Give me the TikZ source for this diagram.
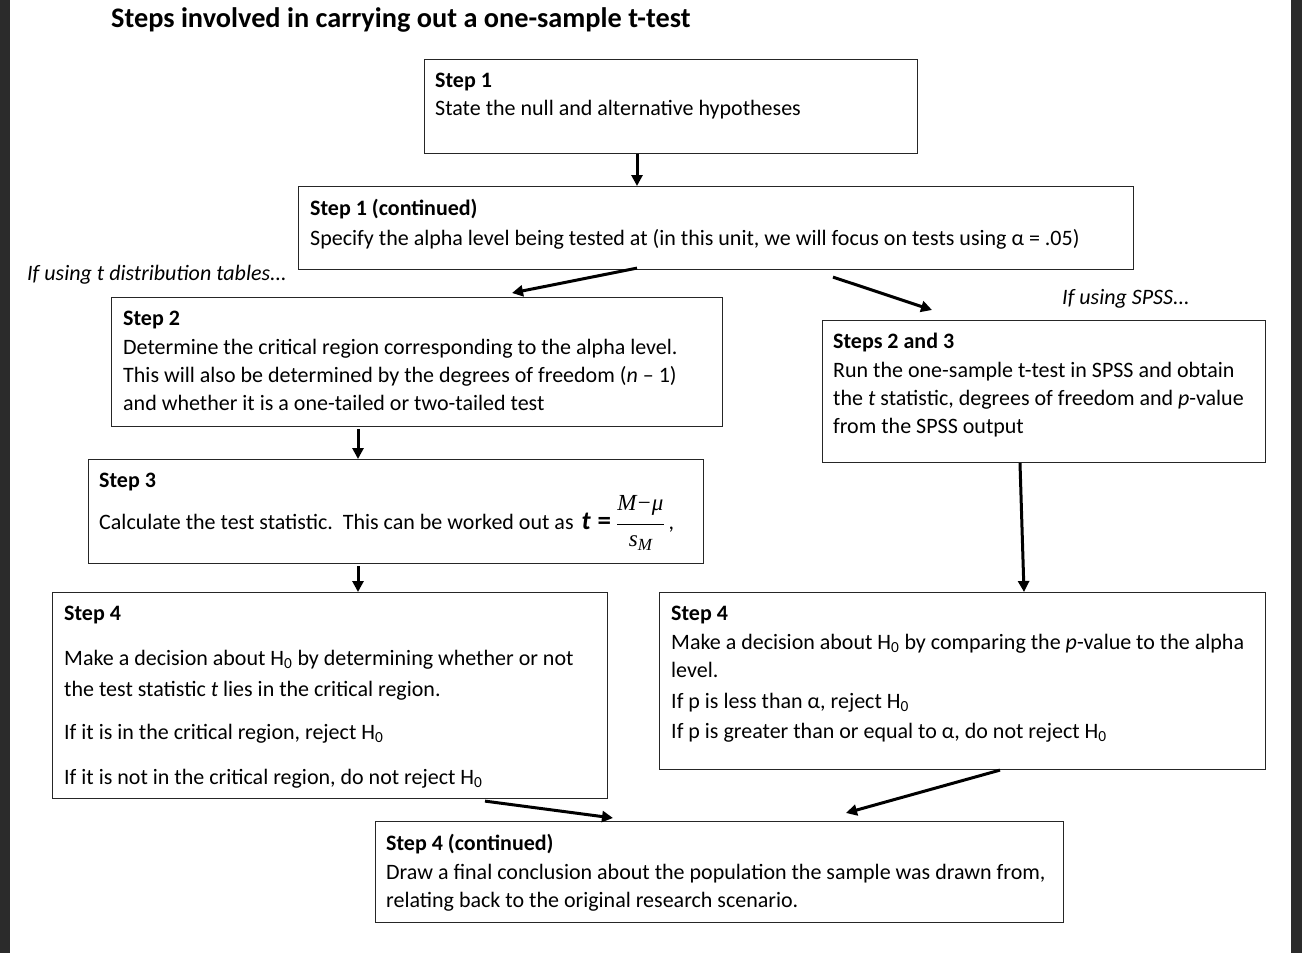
\documentclass[tikz,border=0pt]{standalone}
\usepackage{fontspec}
\setmainfont{Carlito}
\newfontfamily\serifit[ItalicFont={Liberation Serif Italic}]{Liberation Serif}
\usetikzlibrary{arrows.meta,calc}
\newcommand\Hnull{H\textsubscript{0}}
\begin{document}
\begin{tikzpicture}[x=1pt,y=-1pt,
 box/.style={draw=black!85, line width=1.1pt, inner sep=0pt, anchor=north west},
 ln/.style={anchor=base west, inner sep=0pt, font=\fontsize{22}{26}\selectfont},
 hd/.style={anchor=base west, inner sep=0pt, font=\fontsize{22}{26}\selectfont\bfseries},
 arr/.style={line width=3pt, -{Triangle[length=11pt,width=11pt]}},
 note/.style={anchor=base west, inner sep=0pt, font=\fontsize{22}{26}\selectfont\itshape}]
\useasboundingbox (0,0) rectangle (1302,953);
\fill[white] (0,0) rectangle (1302,953);
\fill[black!83] (0,0) rectangle (10,953);
\fill[black!83] (1291,0) rectangle (1302,953);

% title
\node[anchor=base west, inner sep=0pt, font=\fontsize{28.3}{32}\selectfont\bfseries] (title) at (111,27.5) {Steps involved in carrying out a one-sample t-test};

% boxes
\node[box, minimum width=493pt, minimum height=94pt] (s1) at (424,59) {};
\node[box, minimum width=835pt, minimum height=83pt] (c1) at (298,186) {};
\node[box, minimum width=611pt, minimum height=129pt] (s2) at (111,297) {};
\node[box, minimum width=443pt, minimum height=142pt] (s23) at (822,320) {};
\node[box, minimum width=615pt, minimum height=104pt] (s3) at (88,459) {};
\node[box, minimum width=555pt, minimum height=206pt] (s4l) at (52,592) {};
\node[box, minimum width=606pt, minimum height=177pt] (s4r) at (659,592) {};
\node[box, minimum width=688pt, minimum height=101pt] (s4c) at (375,821) {};

% texts
\node[hd] (s1h) at (435,87) {Step 1};
\node[ln] (s1a) at (435,115) {State the null and alternative hypotheses};

\node[hd] (c1h) at (310,215) {Step 1 (continued)};
\node[ln] (c1a) at (310,245) {Specify the alpha level being tested at (in this unit, we will focus on tests using α = .05)};

\node[hd] (s2h) at (123,325) {Step 2};
\node[ln] (s2a) at (123,354) {Determine the critical region corresponding to the alpha level.};
\node[ln] (s2b) at (123,382) {This will also be determined by the degrees of freedom (\textit{n} – 1)};
\node[ln] (s2c) at (123,410) {and whether it is a one-tailed or two-tailed test};

\node[hd] (s23h) at (833,348) {Steps 2 and 3};
\node[ln] (s23a) at (833,377) {Run the one-sample t-test in SPSS and obtain};
\node[ln] (s23b) at (833,405) {the \textit{t} statistic, degrees of freedom and \textit{p}-value};
\node[ln] (s23c) at (833,433) {from the SPSS output};

\node[hd] (s3h) at (99,487) {Step 3};
\node[ln] (s3a) at (99,529) {Calculate the test statistic.\ \ This can be worked out as\hspace{3pt} {\fontsize{26}{26}\selectfont\bfseries\itshape t}\hspace{2pt} {\fontsize{27}{27}\selectfont\bfseries =}\hspace{5pt}$\displaystyle\frac{\mbox{\serifit\itshape\fontsize{23}{23}\selectfont M−μ}\rule[-12pt]{0pt}{12pt}}{\rule{0pt}{21pt}\mbox{\serifit\itshape\fontsize{23}{23}\selectfont s\raisebox{-4pt}{\fontsize{17}{17}\selectfont M}}}$\hspace{4pt},};

\node[hd] (s4lh) at (64,620) {Step 4};
\node[ln] (s4la) at (64,665) {Make a decision about \Hnull{} by determining whether or not};
\node[ln] (s4lb) at (64,696) {the test statistic \textit{t} lies in the critical region.};
\node[ln] (s4lc) at (64,739) {If it is in the critical region, reject \Hnull};
\node[ln] (s4ld) at (64,784) {If it is not in the critical region, do not reject \Hnull};

\node[hd] (s4rh) at (671,620) {Step 4};
\node[ln] (s4ra) at (671,649) {Make a decision about \Hnull{} by comparing the \textit{p}-value to the alpha};
\node[ln] (s4rb) at (671,677) {level.};
\node[ln] (s4rc) at (671,708) {If p is less than α, reject \Hnull};
\node[ln] (s4rd) at (671,738) {If p is greater than or equal to α, do not reject \Hnull};

\node[hd] (s4ch) at (386,850) {Step 4 (continued)};
\node[ln] (s4ca) at (386,879) {Draw a final conclusion about the population the sample was drawn from,};
\node[ln] (s4cb) at (386,907) {relating back to the original research scenario.};

% notes
\node[note] (n1) at (27,280) {If using t distribution tables...};
\node[note] (n2) at (1062,304) {If using SPSS...};

% arrows
\draw[arr] ($(s1.south west)+(213,0)$) -- ($(c1.north west)+(339,0)$);
\draw[arr] ($(c1.south west)+(339,-2)$) -- ($(s2.north west)+(401,-4)$);
\draw[arr] ($(c1.south west)+(535,7)$) -- ($(s23.north west)+(110,-10)$);
\draw[arr] ($(s2.south west)+(247,2)$) -- ($(s3.north west)+(270,0)$);
\draw[arr] ($(s23.south west)+(198,0)$) -- ($(s4r.north west)+(365,0)$);
\draw[arr] ($(s3.south west)+(270,2)$) -- ($(s4l.north west)+(306,0)$);
\draw[arr] ($(s4l.south west)+(433,2)$) -- ($(s4c.north west)+(238,-3)$);
\draw[arr] ($(s4r.south west)+(341,0)$) -- ($(s4c.north west)+(471,-8)$);
\end{tikzpicture}
\end{document}
